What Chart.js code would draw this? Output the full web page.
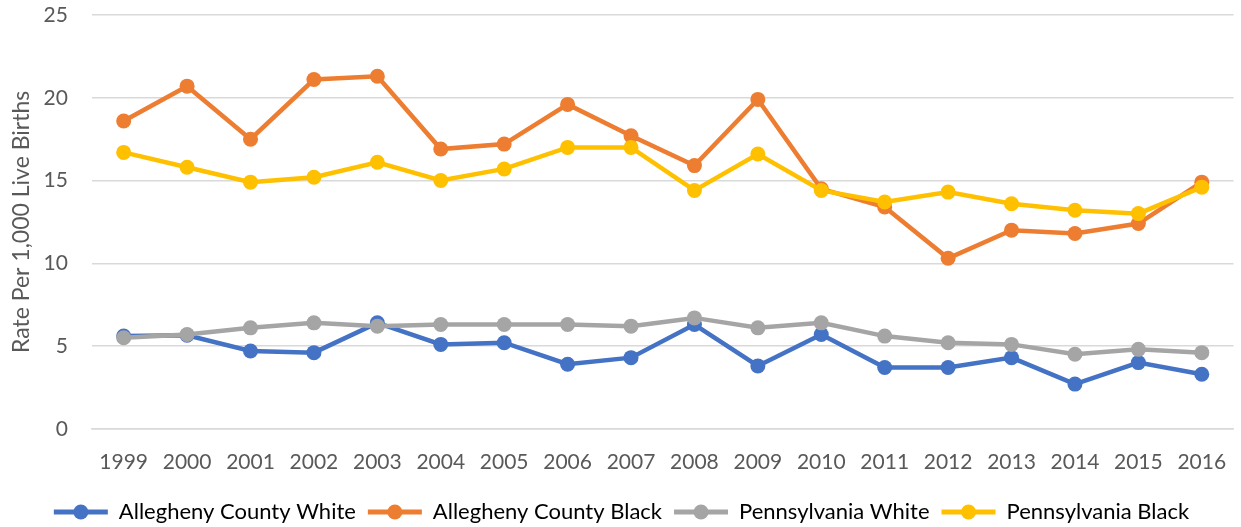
<!DOCTYPE html>
<html>
<head>
<meta charset="utf-8">
<script src="https://cdn.jsdelivr.net/npm/chart.js@4"></script>
<style>
html,body{margin:0;padding:0;background:#fff;}
#wrap{width:1241px;height:527px;position:relative;}
</style>
</head>
<body>
<div id="wrap"><canvas id="c" width="1241" height="527"></canvas></div>
<script>
const years = ['1999','2000','2001','2002','2003','2004','2005','2006','2007','2008','2009','2010','2011','2012','2013','2014','2015','2016'];
const alleghenyWhite = [5.6,5.65,4.7,4.6,6.4,5.1,5.2,3.9,4.3,6.3,3.8,5.7,3.7,3.7,4.3,2.7,4.0,3.3];
const alleghenyBlack = [18.6,20.7,17.5,21.1,21.3,16.9,17.2,19.6,17.7,15.9,19.9,14.5,13.4,10.3,12.0,11.8,12.4,14.9];
const paWhite = [5.5,5.7,6.1,6.4,6.2,6.3,6.3,6.3,6.2,6.7,6.1,6.4,5.6,5.2,5.1,4.5,4.8,4.6];
const paBlack = [16.7,15.8,14.9,15.2,16.1,15.0,15.7,17.0,17.0,14.4,16.6,14.4,13.7,14.3,13.6,13.2,13.0,14.6];
const seriesNames = ['Allegheny County White','Allegheny County Black','Pennsylvania White','Pennsylvania Black'];
const seriesColors = ['#4472C4','#ED7D31','#A5A5A5','#FFC000'];
const seriesData = [alleghenyWhite, alleghenyBlack, paWhite, paBlack];
const yTicks = [0,5,10,15,20,25];

const FONT = 'Lato, "Open Sans", sans-serif';
const TEXT = '#595959';

const legendDots = {
  id: 'legendDots',
  afterDraw(chart) {
    const lg = chart.legend;
    if (!lg || !lg.legendHitBoxes) return;
    const ctx = chart.ctx;
    const bw = lg.options.labels.boxWidth;
    lg.legendHitBoxes.forEach((hb, i) => {
      const ds = chart.data.datasets[lg.legendItems[i].datasetIndex];
      ctx.save();
      ctx.fillStyle = ds.borderColor;
      ctx.beginPath();
      ctx.arc(hb.left + bw / 2, hb.top + hb.height / 2, 7.5, 0, Math.PI * 2);
      ctx.fill();
      ctx.restore();
    });
  }
};

new Chart(document.getElementById('c'), {
  type: 'line',
  data: {
    labels: years,
    datasets: seriesData.map((d, i) => ({
      label: seriesNames[i],
      data: d,
      borderColor: seriesColors[i],
      backgroundColor: seriesColors[i],
      borderWidth: 4.5,
      pointRadius: 7.5,
      pointHoverRadius: 7.5,
      pointBorderWidth: 0,
      tension: 0,
      order: 4 - i
    }))
  },
  options: {
    responsive: false,
    animation: false,
    devicePixelRatio: 1,
    layout: { padding: { left: 8, right: 6, top: 15, bottom: -6 } },
    plugins: {
      tooltip: { enabled: false },
      legend: {
        position: 'bottom',
        labels: {
          font: { family: FONT, size: 22 },
          color: TEXT,
          boxWidth: 54,
          boxHeight: 5,
          padding: 12,
          sort: (a, b) => a.datasetIndex - b.datasetIndex,
          generateLabels(chart) {
            return chart.data.datasets.map((ds, i) => ({
              text: ds.label,
              fillStyle: ds.borderColor,
              strokeStyle: ds.borderColor,
              lineWidth: 0,
              datasetIndex: i,
              hidden: false
            }));
          }
        }
      }
    },
    scales: {
      x: {
        offset: true,
        grid: { display: true, drawOnChartArea: false, drawTicks: true, tickLength: 21, tickColor: 'rgba(0,0,0,0)' },
        border: { display: true, color: '#D9D9D9', width: 1.5 },
        ticks: { font: { family: FONT, size: 21 }, color: TEXT, padding: 0, maxRotation: 0 },
        afterFit(s) { s.height += 14; }
      },
      y: {
        min: 0, max: 25,
        afterBuildTicks(axis) { axis.ticks = yTicks.map(v => ({ value: v })); },
        grid: { color: '#D9D9D9', lineWidth: 1.5, drawTicks: true, tickLength: 24, tickColor: 'rgba(0,0,0,0)' },
        border: { display: false },
        ticks: { font: { family: FONT, size: 21 }, color: TEXT, padding: 0 },
        title: { display: true, text: 'Rate Per 1,000 Live Births', font: { family: FONT, size: 23 }, color: TEXT, padding: { top: 0, bottom: 8 } }
      }
    }
  },
  plugins: [legendDots]
});
</script>
</body>
</html>
